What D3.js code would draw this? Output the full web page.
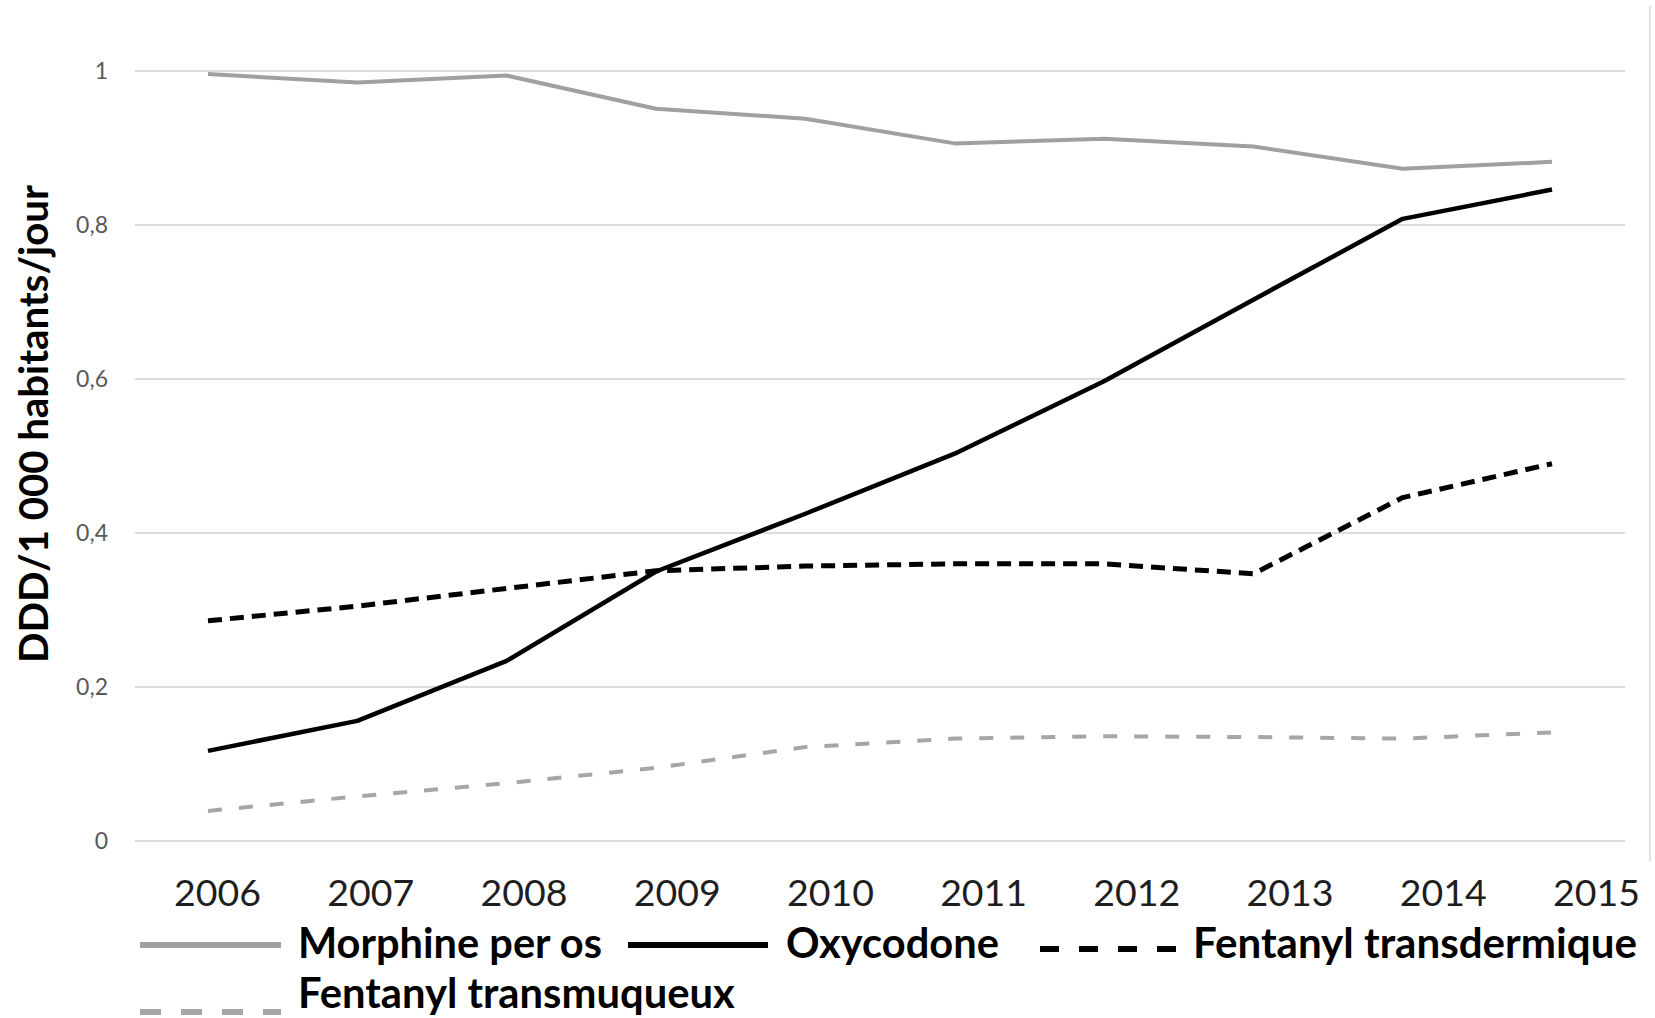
<!DOCTYPE html>
<html>
<head>
<meta charset="utf-8">
<script src="https://cdn.jsdelivr.net/npm/d3@7"></script>
<style>
  html, body { margin: 0; padding: 0; background: #ffffff; }
  svg { display: block; }
</style>
</head>
<body>
<svg id="chart" width="1655" height="1018"></svg>
<script>
// ---------------- DATA ----------------
const years = [2006, 2007, 2008, 2009, 2010, 2011, 2012, 2013, 2014, 2015];
const yTicks = [0, 0.2, 0.4, 0.6, 0.8, 1];
const morphinePerOs        = [0.996, 0.985, 0.994, 0.951, 0.938, 0.906, 0.912, 0.902, 0.873, 0.882];
const oxycodone            = [0.117, 0.156, 0.234, 0.350, 0.425, 0.503, 0.597, 0.703, 0.808, 0.846];
const fentanylTransdermique = [0.286, 0.305, 0.328, 0.351, 0.357, 0.360, 0.360, 0.347, 0.446, 0.490];
const fentanylTransmuqueux  = [0.039, 0.058, 0.075, 0.095, 0.122, 0.133, 0.136, 0.135, 0.133, 0.141];
const seriesNames = ["Morphine per os", "Oxycodone", "Fentanyl transdermique", "Fentanyl transmuqueux"];
const yTitle = "DDD/1 000 habitants/jour";

// ---------------- SETUP ----------------
const svg = d3.select("#chart");
const FONT = "Lato, 'Open Sans', 'DejaVu Sans', sans-serif";

const x = d3.scalePoint().domain(years).range([208, 1552]);
const xLab = d3.scalePoint().domain(years).range([217, 1596]);
const y = d3.scaleLinear().domain([0, 1]).range([841, 71]);

function fitWidth(sel, target) {
  const w = sel.node().getComputedTextLength();
  const fs = parseFloat(sel.attr("font-size"));
  if (w > 0) sel.attr("font-size", fs * target / w);
  return sel;
}

// right border line
svg.append("line")
  .attr("x1", 1650).attr("x2", 1650).attr("y1", 6).attr("y2", 862)
  .attr("stroke", "#e3e3e3").attr("stroke-width", 2);

// gridlines
svg.append("g").selectAll("line").data(yTicks).join("line")
  .attr("x1", 135).attr("x2", 1625)
  .attr("y1", d => y(d)).attr("y2", d => y(d))
  .attr("stroke", "#dcdcdc").attr("stroke-width", 2);

// y axis labels
const locale = d3.formatLocale({ decimal: ",", thousands: " ", grouping: [3], currency: ["", "€"] });
const fmt = locale.format("~g");
const yAxis = svg.append("g")
  .attr("transform", "translate(120,0)")
  .call(d3.axisLeft(y).tickValues(yTicks).tickSize(0).tickPadding(12).tickFormat(fmt));
yAxis.select(".domain").remove();
yAxis.selectAll("text")
  .attr("font-family", FONT).attr("font-size", 23).attr("fill", "#595959");

// x axis labels
const xAxis = svg.append("g")
  .attr("transform", "translate(0,841)")
  .call(d3.axisBottom(xLab).tickSize(0).tickPadding(0));
xAxis.select(".domain").remove();
xAxis.selectAll("text")
  .attr("font-family", FONT).attr("font-size", 38).attr("fill", "#1e1e1e")
  .attr("y", 65).attr("dy", 0);
{
  const t = xAxis.select("text");
  const w = t.node().getComputedTextLength();
  const fs = 38 * 87 / w;
  xAxis.selectAll("text").attr("font-size", fs);
}

// y title
const yt = svg.append("text")
  .attr("transform", "translate(48,424) rotate(-90)")
  .attr("text-anchor", "middle")
  .attr("font-family", FONT).attr("font-weight", "bold")
  .attr("font-size", 40).attr("fill", "#000")
  .text(yTitle);
fitWidth(yt, 478);

// ---------------- LINES ----------------
const series = [
  { name: seriesNames[0], values: morphinePerOs, color: "#a0a0a0", width: 4, dash: null, lw: 6, ldash: null },
  { name: seriesNames[1], values: oxycodone, color: "#000000", width: 4.5, dash: null, lw: 6, ldash: null },
  { name: seriesNames[2], values: fentanylTransdermique, color: "#000000", width: 5, dash: "14,8", lw: 6, ldash: "19,20" },
  { name: seriesNames[3], values: fentanylTransmuqueux, color: "#a6a6a6", width: 4, dash: "14,17", lw: 6, ldash: "21,20" }
];

const line = d3.line().x((d, i) => x(years[i])).y(d => y(d));

svg.append("g").selectAll("path").data(series).join("path")
  .attr("d", d => line(d.values))
  .attr("fill", "none")
  .attr("stroke", d => d.color)
  .attr("stroke-width", d => d.width)
  .attr("stroke-linejoin", "round")
  .attr("stroke-dasharray", d => d.dash);

// ---------------- LEGEND ----------------
const legendLayout = [
  { x1: 140, x2: 281, ly: 945, tx: 298, ty: 958, tw: 304 },
  { x1: 628, x2: 768, ly: 945, tx: 786, ty: 958, tw: 213 },
  { x1: 1040, x2: 1177, ly: 949, tx: 1193, ty: 958, tw: 444 },
  { x1: 140, x2: 281, ly: 1012, tx: 298, ty: 1008, tw: 437 }
];

const lg = svg.append("g");
series.forEach((s, i) => {
  const L = legendLayout[i];
  lg.append("line")
    .attr("x1", L.x1).attr("x2", L.x2).attr("y1", L.ly).attr("y2", L.ly)
    .attr("stroke", s.color).attr("stroke-width", s.lw)
    .attr("stroke-dasharray", s.ldash);
  const t = lg.append("text")
    .attr("x", L.tx).attr("y", L.ty)
    .attr("font-family", FONT).attr("font-weight", "bold")
    .attr("font-size", 40).attr("fill", "#000")
    .text(s.name);
  fitWidth(t, L.tw);
});
</script>
</body>
</html>
